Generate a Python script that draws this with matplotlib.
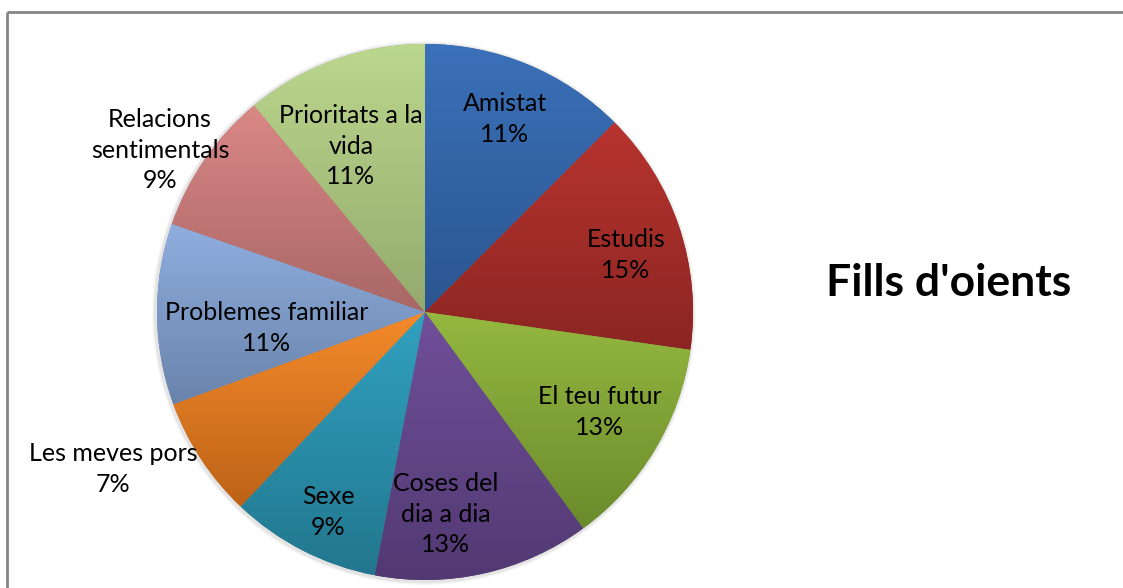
import matplotlib
matplotlib.use("Agg")
import matplotlib.pyplot as plt
import numpy as np
from matplotlib.colors import LinearSegmentedColormap
from matplotlib.patches import Circle

plt.rcParams['font.family'] = ['Lato', 'DejaVu Sans']

# slices clockwise from 12 o'clock
categories = ["Amistat", "Estudis", "El teu futur", "Coses del\ndia a dia", "Sexe",
              "Les meves pors", "Problemes familiar", "Relacions\nsentimentals",
              "Prioritats a la\nvida"]
shares = [12.5, 14.75, 12.7, 13.06, 9.06, 7.33, 10.92, 8.67, 11.0]
pct_labels = ["11%", "15%", "13%", "13%", "9%", "7%", "11%", "9%", "11%"]
top_colors = ["#3b71b9", "#b8342f", "#95b840", "#70509a", "#31a1c0",
              "#f48b2b", "#90afdf", "#da8886", "#bcd78e"]
bottom_colors = ["#2a5590", "#8b2522", "#6b8a2c", "#523972", "#22778e",
                 "#bd6217", "#6983ab", "#a86766", "#93aa6d"]
# label centres in pixels (x from left, y from top)
label_pos = [(505, 119), (626, 255), (600, 412), (446, 514), (328, 512),
             (113, 469), (267, 328), (160, 150), (351, 146)]

W, H = 1123, 588
cx, cy, r = 425, 312, 268

fig = plt.figure(figsize=(W / 100, H / 100), dpi=100)
ax = fig.add_axes([0, 0, 1, 1])

# soft shadow
for k, a in [(4, 0.05), (3, 0.07), (2, 0.1)]:
    ax.add_patch(Circle((cx - 1, H - cy - 1), r + k, color='#808080', alpha=a, lw=0, zorder=0))

wedges, _ = ax.pie(shares, center=(cx, H - cy), radius=r, startangle=90,
                   counterclock=False, frame=True,
                   wedgeprops=dict(linewidth=0))
ax.set_xlim(0, W)
ax.set_ylim(0, H)
ax.set_aspect('equal')
ax.axis('off')

for w, c0, c1 in zip(wedges, top_colors, bottom_colors):
    w.set_facecolor(c1)
    ext = w.get_path().get_extents()
    cmap = LinearSegmentedColormap.from_list('g', [c0, c1])
    im = ax.imshow(np.linspace(1, 0, 256)[:, None], cmap=cmap, origin='lower',
                   extent=[ext.x0, ext.x1, ext.y0, ext.y1], aspect='auto',
                   interpolation='bilinear', zorder=2)
    im.set_clip_path(w)

ax.set_xlim(0, W)
ax.set_ylim(0, H)

for cat, pct, (x, y) in zip(categories, pct_labels, label_pos):
    ax.text(x, H - y, cat + "\n" + pct, ha='center', va='center', fontsize=18,
            linespacing=1.4, color='black', zorder=5)

ax.text(949, H - 283, "Fills d'oients", ha='center', va='center', fontsize=32,
        fontweight='bold', color='black', zorder=5)

# chart frame (left and top edges visible)
ax.plot([7, 7], [H - 12, 0], color='#868686', lw=2, solid_capstyle='butt', zorder=6)
ax.plot([7, W], [H - 12, H - 12], color='#868686', lw=2, solid_capstyle='butt', zorder=6)

fig.savefig("out.png", dpi=100)
